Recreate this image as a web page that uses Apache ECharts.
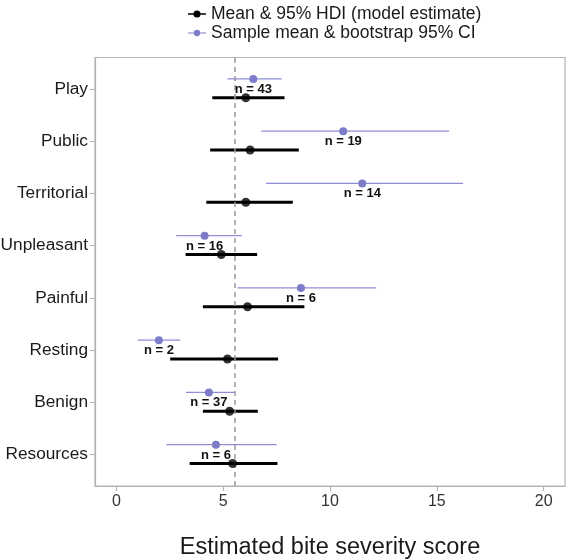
<!DOCTYPE html>
<html>
<head>
<meta charset="utf-8">
<script src="https://cdn.jsdelivr.net/npm/echarts@6/dist/echarts.min.js"></script>
<style>
html,body{margin:0;padding:0;background:#fff;}
#main{width:566px;height:560px;}
</style>
</head>
<body>
<div id="main"></div>
<script>
// Categories, top to bottom
const categories = ['Play','Public','Territorial','Unpleasant','Painful','Resting','Benign','Resources'];
// Model estimate: mean & 95% HDI
const modelMean = [6.06, 6.26, 6.06, 4.91, 6.14, 5.20, 5.30, 5.44];
const modelLo   = [4.49, 4.39, 4.21, 3.24, 4.05, 2.52, 4.05, 3.43];
const modelHi   = [7.87, 8.54, 8.26, 6.59, 8.80, 7.57, 6.62, 7.54];
// Sample mean & bootstrap 95% CI
const sampleMean = [6.41, 10.62, 11.51, 4.13, 8.64, 1.99, 4.33, 4.66];
const sampleLo   = [5.20, 6.78, 7.01, 2.80, 5.67, 1.00, 3.26, 2.34];
const sampleHi   = [7.74, 15.58, 16.23, 5.87, 12.16, 2.99, 5.56, 7.51];
const sampleN    = [43, 19, 14, 16, 6, 2, 37, 6];
// Overall reference (dashed line)
const refLine = 5.56;
const xTicks = [0, 5, 10, 15, 20];

const FONT = 'Liberation Sans, Arial, Helvetica, sans-serif';
const nCat = categories.length;
const pos = categories.map((c, i) => nCat - i);
const OFF_S = 0.19, OFF_M = -0.17;
const PURPLE_PT = '#7c7cc8';
const PURPLE_LN = '#8e8ed8';
const NAME_M = 'Mean & 95% HDI (model estimate)';
const NAME_S = 'Sample mean & bootstrap 95% CI';

function barRenderer(off, color, width) {
  return function (params, api) {
    const y = api.value(2) + off;
    const p1 = api.coord([api.value(0), y]);
    const p2 = api.coord([api.value(1), y]);
    return { type: 'line', shape: { x1: p1[0], y1: p1[1], x2: p2[0], y2: p2[1] },
      style: { stroke: color, lineWidth: width } };
  };
}

const chart = echarts.init(document.getElementById('main'), null, { renderer: 'canvas' });
chart.setOption({
  animation: false,
  backgroundColor: '#fff',
  textStyle: { fontFamily: FONT },
  legend: {
    orient: 'vertical', left: 183, top: 0, itemGap: 1, itemWidth: 18, itemHeight: 8, itemTextGap: 5,
    textStyle: { fontSize: 17.5, color: '#1a1a1a', fontFamily: FONT },
    selectedMode: false,
    data: [
      { name: NAME_M, icon: 'path://M0,4.1 H6 V5.9 H0 Z M14,4.1 H20 V5.9 H14 Z M6,5 A4,4 0 1,1 14,5 A4,4 0 1,1 6,5 Z', itemStyle: { color: '#000' } },
      { name: NAME_S, icon: 'path://M0,4.5 H6.5 V5.5 H0 Z M13.5,4.5 H20 V5.5 H13.5 Z M6.5,5 A3.5,3.5 0 1,1 13.5,5 A3.5,3.5 0 1,1 6.5,5 Z', itemStyle: { color: PURPLE_PT } }
    ]
  },
  grid: { left: 95, right: 1, top: 57.5, bottom: 74, show: true, borderColor: '#b3b3b3', borderWidth: 1.2,
    containLabel: false, outerBoundsMode: 'none' },
  xAxis: {
    type: 'value', min: -1, max: 21,
    name: 'Estimated bite severity score', nameLocation: 'middle', nameGap: 50,
    nameTextStyle: { fontSize: 23.5, color: '#1a1a1a', fontFamily: FONT },
    axisLine: { show: true, onZero: false, lineStyle: { color: '#b3b3b3', width: 1.2 } },
    axisTick: { show: true, length: 5, customValues: xTicks, lineStyle: { color: '#b3b3b3', width: 1.2 } },
    axisLabel: { customValues: xTicks, margin: 8, fontSize: 16, color: '#333', fontFamily: FONT },
    splitLine: { show: false }
  },
  yAxis: {
    type: 'value', min: 0.4, max: nCat + 0.6,
    axisLine: { show: true, onZero: false, lineStyle: { color: '#b3b3b3', width: 1.2 } },
    axisTick: { show: true, length: 5, customValues: pos, lineStyle: { color: '#b3b3b3', width: 1.2 } },
    axisLabel: { customValues: pos, margin: 7, fontSize: 17.3, color: '#1a1a1a', fontFamily: FONT,
      formatter: v => categories[nCat - Math.round(v)] },
    splitLine: { show: false }
  },
  series: [
    {
      type: 'custom', name: NAME_S, renderItem: barRenderer(OFF_S, PURPLE_LN, 1.3),
      data: categories.map((c, i) => [sampleLo[i], sampleHi[i], pos[i]]),
      encode: { x: [0, 1], y: 2 }, silent: true, z: 2,
      markLine: { silent: true, symbol: 'none', label: { show: false },
        lineStyle: { color: '#999', type: [5, 4], width: 1.5 },
        data: [{ xAxis: refLine }] }
    },
    {
      type: 'scatter', name: NAME_S, symbolSize: 8,
      itemStyle: { color: PURPLE_PT, opacity: 1 },
      data: categories.map((c, i) => [sampleMean[i], pos[i] + OFF_S]), z: 3, silent: true
    },
    {
      type: 'custom', name: NAME_M, renderItem: barRenderer(OFF_M, '#000', 3),
      data: categories.map((c, i) => [modelLo[i], modelHi[i], pos[i]]),
      encode: { x: [0, 1], y: 2 }, silent: true, z: 4
    },
    {
      type: 'scatter', name: NAME_M, symbolSize: 9,
      itemStyle: { color: '#000' },
      data: categories.map((c, i) => [modelMean[i], pos[i] + OFF_M]), z: 5, silent: true
    },
    {
      type: 'custom', name: 'nlabels', silent: true, z: 6,
      renderItem: function (params, api) {
        const p = api.coord([api.value(0), api.value(1)]);
        return { type: 'text', x: p[0], y: p[1] + 0.5,
          style: { text: 'n = ' + api.value(2), fill: '#111', font: 'bold 13px ' + FONT,
            align: 'center', verticalAlign: 'middle' } };
      },
      data: categories.map((c, i) => [sampleMean[i], pos[i], sampleN[i]]),
      encode: { x: 0, y: 1 }
    }
  ]
});
</script>
</body>
</html>
